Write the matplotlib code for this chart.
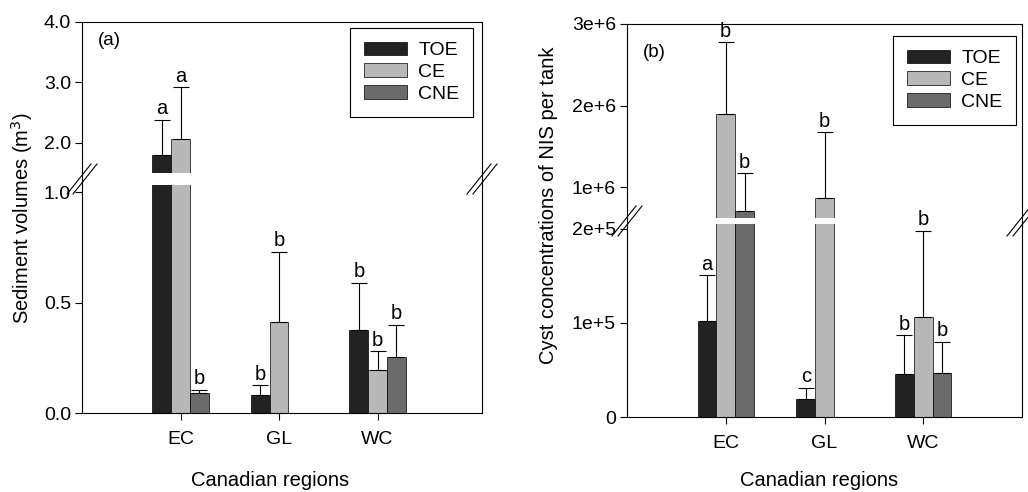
import matplotlib
matplotlib.use("Agg")
import matplotlib.pyplot as plt
from matplotlib.lines import Line2D
import numpy as np

plt.rcParams['font.family'] = ['Liberation Sans', 'DejaVu Sans']
plt.rcParams['font.size'] = 14

regions = ['EC', 'GL', 'WC']
series = ['TOE', 'CE', 'CNE']
colors = ['#222222', '#b8b8b8', '#6b6b6b']

# panel (a) sediment volumes, mean and upper error
sed_toe = [1.80, 0.08, 0.375]
sed_ce = [2.06, 0.41, 0.195]
sed_cne = [0.09, 0.0, 0.255]
sed_toe_err = [0.58, 0.047, 0.215]
sed_ce_err = [0.86, 0.32, 0.085]
sed_cne_err = [0.015, 0.0, 0.145]
sed_toe_let = ['a', 'b', 'b']
sed_ce_let = ['a', 'b', 'b']
sed_cne_let = ['b', '', 'b']

# panel (b) cyst concentrations
cyst_toe = [1.02e5, 1.9e4, 4.6e4]
cyst_ce = [1.90e6, 8.65e5, 1.06e5]
cyst_cne = [7.0e5, 0.0, 4.7e4]
cyst_toe_err = [0.49e5, 1.2e4, 4.1e4]
cyst_ce_err = [0.88e6, 0.805e6, 0.92e5]
cyst_cne_err = [0.47e6, 0.0, 3.3e4]
cyst_toe_let = ['a', 'c', 'b']
cyst_ce_let = ['b', 'b', 'b']
cyst_cne_let = ['b', '', 'b']

W, H = 1028, 492
fig = plt.figure(figsize=(10.28, 4.92), dpi=100)


def fx(px):
    return px / W


def fy(py):
    return 1 - py / H


def panel(left, right, top_px, brk_top, brk_bot, bot_px, lims_top, lims_bot, xlim,
          vals, errs, lets, ticks_top, labs_top, ticks_bot, labs_bot):
    ax_t = fig.add_axes([fx(left), fy(brk_top), fx(right - left), fy(top_px) - fy(brk_top)])
    ax_b = fig.add_axes([fx(left), fy(bot_px), fx(right - left), fy(brk_bot) - fy(bot_px)])
    x = np.arange(1, len(regions) + 1)
    w = 0.19
    for ax in (ax_t, ax_b):
        for i, (v, e, c, lab) in enumerate(zip(vals, errs, colors, series)):
            xs = x + (i - 1) * w
            ax.bar(xs, v, w, color=c, edgecolor='k', linewidth=0.5, label=lab)
            for xx, vv, ee in zip(xs, v, e):
                if vv > 0:
                    ax.errorbar(xx, vv, yerr=[[0], [ee]], fmt='none', ecolor='k',
                                elinewidth=0.8, capsize=6, capthick=0.8)
        ax.set_xlim(*xlim)
        for s in ax.spines.values():
            s.set_linewidth(0.8)
        ax.tick_params(axis='y', length=5, width=0.8, pad=3, labelsize=14)
    ax_t.set_ylim(*lims_top)
    ax_b.set_ylim(*lims_bot)
    ax_t.spines['bottom'].set_visible(False)
    ax_b.spines['top'].set_visible(False)
    ax_t.set_xticks([])
    ax_b.set_xticks(x)
    ax_b.set_xticklabels(regions)
    ax_b.tick_params(axis='x', length=5, width=0.8, pad=8, labelsize=14)
    ax_t.set_yticks(ticks_top)
    ax_t.set_yticklabels(labs_top)
    ax_b.set_yticks(ticks_bot)
    ax_b.set_yticklabels(labs_bot)

    # letters above error bars
    for i, (v, e, l) in enumerate(zip(vals, errs, lets)):
        xs = x + (i - 1) * w
        for xx, vv, ee, ll in zip(xs, v, e, l):
            if not ll:
                continue
            top = vv + ee
            ax = ax_t if top > lims_bot[1] else ax_b
            ax.annotate(ll, (xx, top), xytext=(0, 1), textcoords='offset points',
                        ha='center', va='bottom', fontsize=14.5)

    # spine continuation through the gap and break marks
    ymid = (brk_top + brk_bot) / 2
    for xp in (left, right):
        fig.add_artist(Line2D([fx(xp), fx(xp)], [fy(brk_top), fy(brk_bot)], color='k', lw=0.8))
        for off in (-3, 3):
            fig.add_artist(Line2D([fx(xp - 12 + off), fx(xp + 12 + off)],
                                  [fy(ymid + 15), fy(ymid - 15)], color='k', lw=0.8))
    return ax_t, ax_b


def add_legend(ax, right_px, top_px):
    leg = ax.legend(loc='upper right', bbox_to_anchor=(fx(right_px), fy(top_px)),
                    bbox_transform=fig.transFigure, borderaxespad=0, fancybox=False,
                    edgecolor='k', framealpha=1, fontsize=14, handlelength=2.2,
                    handleheight=0.7, labelspacing=0.22, borderpad=0.7, handletextpad=0.6)
    leg.get_frame().set_linewidth(0.8)


# panel (a)
at, ab = panel(82, 482, 22, 173, 185, 413, (1.5, 4.0), (0, 1.032), (0, 4.06),
               [sed_toe, sed_ce, sed_cne], [sed_toe_err, sed_ce_err, sed_cne_err],
               [sed_toe_let, sed_ce_let, sed_cne_let],
               [2.0, 3.0, 4.0], ['2.0', '3.0', '4.0'],
               [0.0, 0.5, 1.0], ['0.0', '0.5', '1.0'])
at.text(0.04, 0.85, '(a)', transform=at.transAxes, fontsize=13.5)
add_legend(at, 473, 28)
fig.text(fx(22), fy(218), 'Sediment volumes (m$^3$)', rotation=90, ha='center', va='center', fontsize=14.5)
fig.text(fx(270), fy(481), 'Canadian regions', ha='center', va='center', fontsize=14.5)

# panel (b)
bt, bb = panel(627, 1022, 24, 218, 224, 417, (0.62e6, 3.0e6), (0, 2.053e5), (0, 4.0),
               [cyst_toe, cyst_ce, cyst_cne], [cyst_toe_err, cyst_ce_err, cyst_cne_err],
               [cyst_toe_let, cyst_ce_let, cyst_cne_let],
               [1e6, 2e6, 3e6], ['1e+6', '2e+6', '3e+6'],
               [0, 1e5, 2e5], ['0', '1e+5', '2e+5'])
bt.text(0.04, 0.83, '(b)', transform=bt.transAxes, fontsize=13.5)
add_legend(bt, 1016, 36)
fig.text(fx(548), fy(205), 'Cyst concentrations of NIS per tank', rotation=90, ha='center', va='center', fontsize=14.5)
fig.text(fx(819), fy(480), 'Canadian regions', ha='center', va='center', fontsize=14.5)

fig.savefig('out.png', dpi=100)
